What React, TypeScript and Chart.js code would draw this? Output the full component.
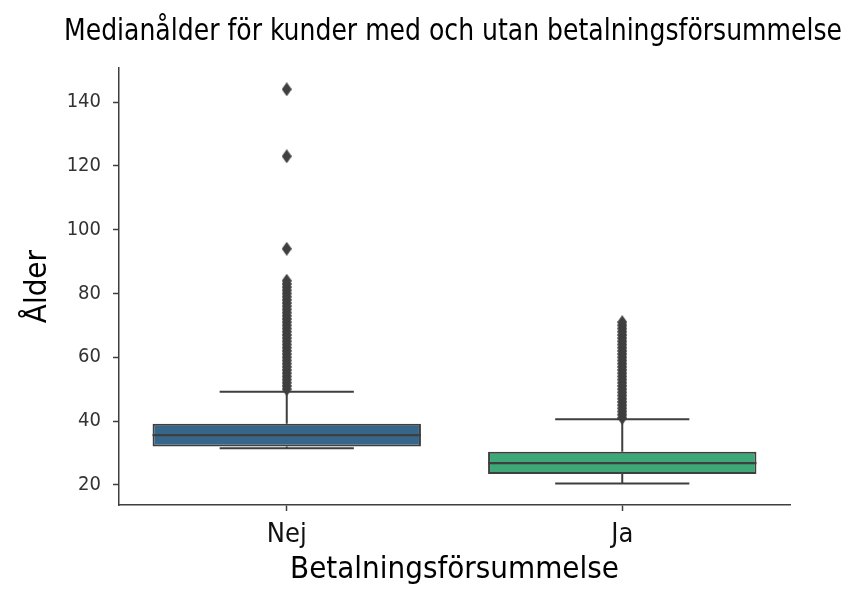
import React, { useEffect, useRef } from "react";
import { Chart, registerables } from "chart.js";

Chart.register(...registerables);

const categories = ["Nej", "Ja"];
const q1 = [32, 23.4];
const median = [35.6, 26.8];
const q3 = [39.2, 30.4];
const whiskerLow = [31.5, 20.4];
const whiskerHigh = [49.2, 40.6];
const outliersNej = [
  50, 51, 52, 53, 54, 55, 56, 57, 58, 59, 60, 61, 62, 63, 64, 65, 66, 67, 68, 69,
  70, 71, 72, 73, 74, 75, 76, 77, 78, 79, 80, 81, 82, 83, 84, 94, 123, 144,
];
const outliersJa = [
  41, 42, 43, 44, 45, 46, 47, 48, 49, 50, 51, 52, 53, 54, 55, 56, 57, 58, 59, 60,
  61, 62, 63, 64, 65, 66, 67, 68, 69, 70, 71,
];
const yTicks = [20, 40, 60, 80, 100, 120, 140];
const yMin = 13.7;
const yMax = 150.6;

const titleText = "Medianålder för kunder med och utan betalningsförsummelse";
const xTitle = "Betalningsförsummelse";
const yTitle = "Ålder";

const boxColors = ["#36678b", "#3ea777"];
const lineColor = "#3f3f3f";
const FONT = "'DejaVu Sans Condensed', 'DejaVu Sans', sans-serif";

function makeDiamond(): HTMLCanvasElement {
  const c = document.createElement("canvas");
  c.width = 10;
  c.height = 14;
  const g = c.getContext("2d")!;
  g.fillStyle = lineColor;
  g.beginPath();
  g.moveTo(5, 0);
  g.lineTo(10, 7);
  g.lineTo(5, 14);
  g.lineTo(0, 7);
  g.closePath();
  g.fill();
  return c;
}

const boxPlugin = {
  id: "boxExtras",
  beforeDatasetsDraw(chart: any) {
    const ctx = chart.ctx;
    const xs = chart.scales.x;
    const ys = chart.scales.y;
    const barMeta = chart.getDatasetMeta(1);
    ctx.save();
    ctx.strokeStyle = lineColor;
    ctx.lineWidth = 2;
    categories.forEach((_, i) => {
      const x = xs.getPixelForValue(i);
      const bar = barMeta.data[i];
      const half = bar ? bar.width / 4 : 60;
      ctx.beginPath();
      ctx.moveTo(x, ys.getPixelForValue(q3[i]));
      ctx.lineTo(x, ys.getPixelForValue(whiskerHigh[i]));
      ctx.moveTo(x, ys.getPixelForValue(q1[i]));
      ctx.lineTo(x, ys.getPixelForValue(whiskerLow[i]));
      ctx.moveTo(x - half, ys.getPixelForValue(whiskerHigh[i]));
      ctx.lineTo(x + half, ys.getPixelForValue(whiskerHigh[i]));
      ctx.moveTo(x - half, ys.getPixelForValue(whiskerLow[i]));
      ctx.lineTo(x + half, ys.getPixelForValue(whiskerLow[i]));
      ctx.stroke();
    });
    ctx.restore();
  },
  afterDatasetDraw(chart: any, args: any) {
    if (args.index !== 1) return;
    const ctx = chart.ctx;
    const ys = chart.scales.y;
    const barMeta = chart.getDatasetMeta(1);
    ctx.save();
    ctx.strokeStyle = lineColor;
    ctx.lineWidth = 2.2;
    categories.forEach((_, i) => {
      const bar = barMeta.data[i];
      if (!bar) return;
      const y = ys.getPixelForValue(median[i]);
      ctx.beginPath();
      ctx.moveTo(bar.x - bar.width / 2, y);
      ctx.lineTo(bar.x + bar.width / 2, y);
      ctx.stroke();
    });
    ctx.restore();
  },
};

export default function App() {
  const ref = useRef<HTMLCanvasElement | null>(null);
  useEffect(() => {
    if (!ref.current) return;
    const diamond = makeDiamond();
    const outlierPoints = [
      ...outliersNej.map((v) => ({ x: categories[0], y: v })),
      ...outliersJa.map((v) => ({ x: categories[1], y: v })),
    ];
    const chart = new Chart(ref.current, {
      type: "bar",
      data: {
        labels: categories,
        datasets: [
          {
            type: "line",
            data: outlierPoints as any,
            showLine: false,
            pointStyle: diamond as any,
            pointRadius: 5,
            pointBackgroundColor: lineColor,
            pointBorderWidth: 0,
          } as any,
          {
            type: "bar",
            data: categories.map((_, i) => [q1[i], q3[i]]) as any,
            backgroundColor: boxColors,
            borderColor: lineColor,
            borderWidth: 2,
            borderSkipped: false,
            barPercentage: 0.8,
            categoryPercentage: 1,
          } as any,
        ],
      },
      options: {
        responsive: false,
        animation: false,
        layout: { padding: { left: 64, right: 22, top: 0, bottom: 0 } },
        plugins: {
          legend: { display: false },
          tooltip: { enabled: false },
          title: {
            display: true,
            text: titleText,
            fullSize: true,
            color: "#000",
            font: { family: FONT, size: 31, weight: "normal" },
            padding: { top: 13, bottom: 18 },
          },
        },
        scales: {
          x: {
            type: "category",
            offset: true,
            grid: {
              display: true,
              drawOnChartArea: false,
              drawTicks: true,
              tickLength: 6,
              tickWidth: 1.5,
              tickColor: lineColor,
              offset: false,
            },
            border: { display: true, color: lineColor, width: 1.5 },
            ticks: {
              color: "#111",
              padding: 8,
              font: { family: FONT, size: 27 },
            },
            title: {
              display: true,
              text: xTitle,
              color: "#000",
              font: { family: FONT, size: 31 },
              padding: { top: 0, bottom: 17 },
            },
            afterFit: (s: any) => {
              s.height = 101;
            },
          },
          y: {
            type: "linear",
            min: yMin,
            max: yMax,
            afterBuildTicks: (s: any) => {
              s.ticks = yTicks.map((v) => ({ value: v }));
            },
            grid: {
              display: true,
              drawOnChartArea: false,
              drawTicks: true,
              tickLength: 6,
              tickWidth: 1.5,
              tickColor: lineColor,
            },
            border: { display: true, color: lineColor, width: 1.5 },
            ticks: {
              color: "#333",
              padding: 12,
              font: { family: FONT, size: 20 },
              callback: (v: any) => String(v),
            },
            title: {
              display: true,
              text: yTitle,
              color: "#000",
              font: { family: FONT, size: 31 },
              padding: { top: -44.6, bottom: 0 },
            },
            afterFit: (s: any) => {
              s.width = 55;
            },
          },
          yRight: {
            type: "linear",
            position: "right",
            display: true,
            grid: { display: false, drawTicks: false },
            border: { display: false },
            ticks: { display: false },
            afterFit: (s: any) => {
              s.width = 52;
            },
          },
        },
      },
      plugins: [boxPlugin],
    });
    return () => chart.destroy();
  }, []);
  return (
    <div style={{ position: "absolute", left: 0, top: 0, width: 864, height: 606, background: "#fff" }}>
      <canvas ref={ref} width={864} height={606} />
    </div>
  );
}
